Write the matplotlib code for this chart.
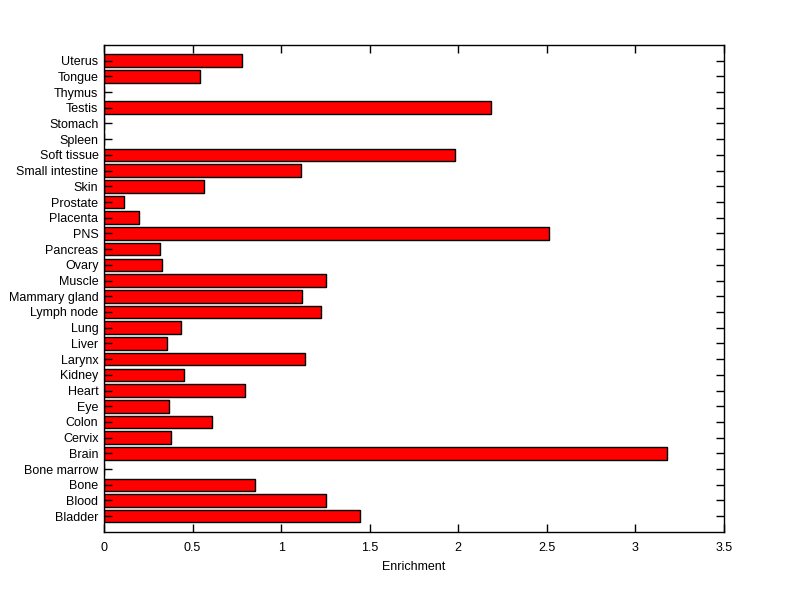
import matplotlib
matplotlib.use("Agg")
import matplotlib.pyplot as plt
import numpy as np

# tissue categories, bottom to top
tissues = ["Bladder", "Blood", "Bone", "Bone marrow", "Brain", "Cervix", "Colon",
           "Eye", "Heart", "Kidney", "Larynx", "Liver", "Lung", "Lymph node",
           "Mammary gland", "Muscle", "Ovary", "Pancreas", "PNS", "Placenta",
           "Prostate", "Skin", "Small intestine", "Soft tissue", "Spleen",
           "Stomach", "Testis", "Thymus", "Tongue", "Uterus"]
enrichment = [1.446, 1.253, 0.853, 0.0, 3.179, 0.378, 0.61,
              0.367, 0.796, 0.452, 1.135, 0.356, 0.435, 1.225,
              1.118, 1.253, 0.328, 0.316, 2.513, 0.198,
              0.113, 0.565, 1.11, 1.98, 0.0,
              0.0, 2.185, 0.0, 0.54, 0.78]
x_ticks = [0, 0.5, 1, 1.5, 2, 2.5, 3, 3.5]

plt.rcParams['font.family'] = ['Liberation Sans', 'DejaVu Sans']

fig = plt.figure(figsize=(8, 5.99), dpi=100, facecolor='white')
ax = fig.add_axes([0.13, 0.112, 0.775, 0.813])

y = np.arange(1, len(tissues) + 1)
ax.barh(y, enrichment, height=0.8, color='#ff0000', edgecolor='black', linewidth=1)

ax.set_xlim(0, 3.5)
ax.set_ylim(0, len(tissues) + 1)
ax.set_xticks(x_ticks)
ax.set_xticklabels([f"{t:g}" for t in x_ticks], fontsize=9)
ax.set_yticks(y)
ax.set_yticklabels(tissues, fontsize=9)
ax.set_xlabel("Enrichment", fontsize=9, labelpad=5)

ax.tick_params(direction='in', length=6, width=1, top=True, right=True,
               colors='black')
ax.tick_params(axis='x', pad=7)
ax.tick_params(axis='y', pad=4)
for sp in ax.spines.values():
    sp.set_linewidth(1)

fig.savefig("out.png", dpi=100, facecolor='white')
